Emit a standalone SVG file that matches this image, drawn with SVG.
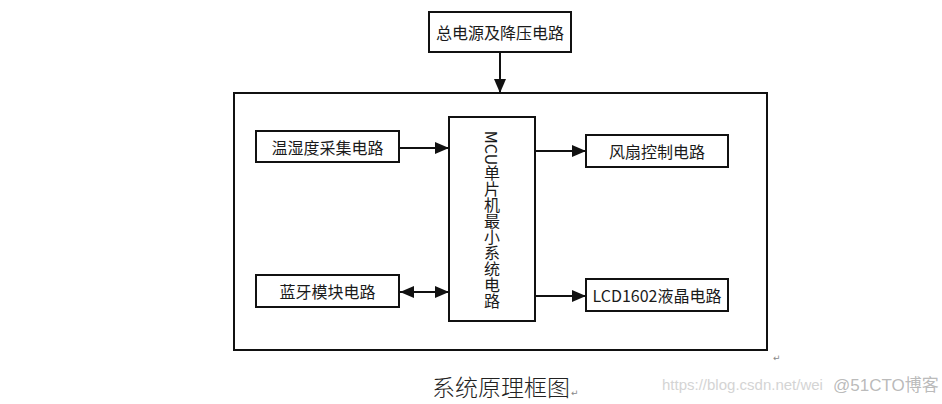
<svg xmlns="http://www.w3.org/2000/svg" width="942" height="404" viewBox="0 0 942 404">
  <style>
    .box { fill: #ffffff; stroke: #111111; stroke-width: 2; }
    .lbl { font-family: "Noto Sans CJK SC", "Noto Sans", sans-serif; font-size: 16px; fill: #1a1a1a; text-anchor: middle; dominant-baseline: central; }
    .vlbl { font-family: "Noto Sans CJK SC", "Noto Sans", sans-serif; font-size: 16px; fill: #1a1a1a; text-anchor: middle; writing-mode: vertical-rl; }
    .conn { stroke: #111111; stroke-width: 2; fill: none; }
    .cap { font-family: "Noto Sans CJK SC", sans-serif; font-weight: 300; font-size: 23px; fill: #222222; text-anchor: middle; }
    .mark { font-family: "DejaVu Sans", sans-serif; font-size: 9px; fill: #888888; }
    .wm1 { font-family: "Liberation Sans", sans-serif; font-size: 15px; fill: #d4d4d4; }
    .wm2 { font-family: "Liberation Sans", "Noto Sans CJK SC", sans-serif; font-size: 17px; fill: #a8a8a8; fill-opacity: 0.8; }
  </style>
  <defs>
    <marker id="arr" viewBox="0 0 14 12" refX="14" refY="6" markerWidth="14" markerHeight="12" markerUnits="userSpaceOnUse" orient="auto-start-reverse">
      <path d="M0,0 L14,6 L0,12 Z" fill="#111111"/>
    </marker>
  </defs>

  <g id="system">
    <rect class="box" x="234" y="93" width="533" height="257"/>
  </g>

  <g id="power">
    <rect class="box" x="429" y="12" width="142" height="40"/>
    <text class="lbl" x="500" y="32">总电源及降压电路</text>
  </g>

  <g id="mcu">
    <rect class="box" x="449" y="117" width="86" height="204"/>
    <text class="vlbl" x="492" y="220">MCU单片机最小系统电路</text>
  </g>

  <g id="sensor">
    <rect class="box" x="256" y="131" width="143" height="31"/>
    <text class="lbl" x="327.5" y="146.5">温湿度采集电路</text>
  </g>

  <g id="fan">
    <rect class="box" x="586" y="135" width="142" height="32"/>
    <text class="lbl" x="657" y="151">风扇控制电路</text>
  </g>

  <g id="bluetooth">
    <rect class="box" x="256" y="275" width="143" height="32"/>
    <text class="lbl" x="327.5" y="291">蓝牙模块电路</text>
  </g>

  <g id="lcd">
    <rect class="box" x="586" y="279" width="142" height="32"/>
    <text class="lbl" x="657" y="295">LCD1602液晶电路</text>
  </g>

  <g id="connectors">
    <line class="conn" x1="500" y1="52" x2="500" y2="93" marker-end="url(#arr)"/>
    <line class="conn" x1="399" y1="148" x2="449" y2="148" marker-end="url(#arr)"/>
    <line class="conn" x1="535" y1="151" x2="586" y2="151" marker-end="url(#arr)"/>
    <line class="conn" x1="400" y1="292" x2="449" y2="292" marker-start="url(#arr)" marker-end="url(#arr)"/>
    <line class="conn" x1="535" y1="296" x2="586" y2="296" marker-end="url(#arr)"/>
  </g>

  <g id="caption">
    <text class="cap" x="501" y="396">系统原理框图</text>
    <text class="mark" x="571" y="396">↵</text>
    <text class="mark" x="773" y="361">↵</text>
  </g>

  <g id="watermark">
    <text class="wm1" x="662" y="390">https://blog.csdn.net/wei</text>
    <text class="wm2" x="833" y="391">@51CTO博客</text>
  </g>
</svg>
